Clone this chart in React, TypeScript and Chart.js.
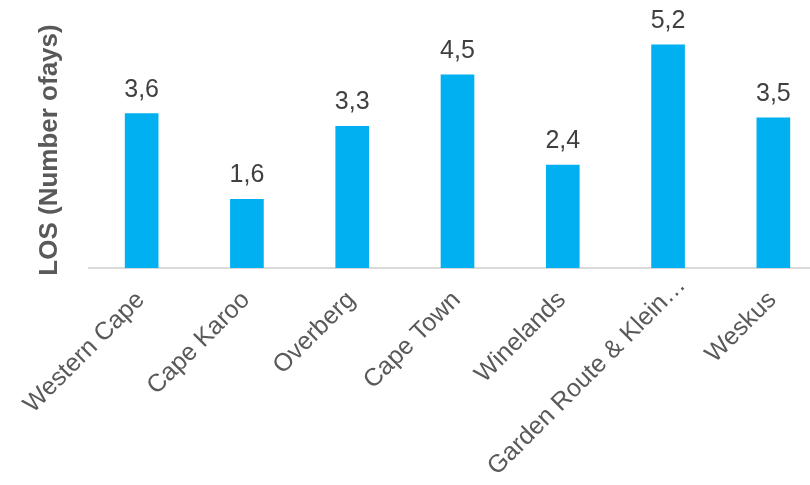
import React, { useEffect, useRef } from "react";
import { Chart, registerables } from "chart.js";

Chart.register(...registerables);

const categories = [
  "Western Cape",
  "Cape Karoo",
  "Overberg",
  "Cape Town",
  "Winelands",
  "Garden Route & Klein…",
  "Weskus",
];
const losValues = [3.6, 1.6, 3.3, 4.5, 2.4, 5.2, 3.5];
const valueLabels = ["3,6", "1,6", "3,3", "4,5", "2,4", "5,2", "3,5"];
const yTitle = "LOS (Number ofays)";

const FONT = '"Liberation Sans", Arial, sans-serif';

const dataLabelPlugin = {
  id: "dataLabels",
  afterDatasetsDraw(chart: any) {
    const ctx = chart.ctx;
    const meta = chart.getDatasetMeta(0);
    ctx.save();
    ctx.font = `25px ${FONT}`;
    ctx.fillStyle = "#404040";
    ctx.textAlign = "center";
    ctx.textBaseline = "alphabetic";
    meta.data.forEach((bar: any, i: number) => {
      ctx.fillText(valueLabels[i], bar.x, bar.y - 17);
    });
    ctx.restore();
  },
};

// Rotated category labels (Excel-style): right end anchored just right of the tick,
// slid along their own direction when they would run off the bottom.
const xLabelPlugin = {
  id: "xLabels",
  afterDraw(chart: any) {
    const ctx = chart.ctx;
    const xScale = chart.scales.x;
    const baseY = chart.chartArea.bottom;
    const limit = chart.height - 9;
    const c = Math.SQRT1_2;
    ctx.save();
    ctx.font = `25px ${FONT}`;
    ctx.fillStyle = "#595959";
    ctx.textAlign = "right";
    ctx.textBaseline = "alphabetic";
    categories.forEach((label, i) => {
      const w = ctx.measureText(label).width;
      let ex = xScale.getPixelForTick(i) + 4;
      let ey = baseY + 33;
      const overflow = ey + w * c - limit;
      if (overflow > 0) {
        ex += overflow;
        ey -= overflow;
      }
      ctx.save();
      ctx.translate(ex, ey);
      ctx.rotate(-Math.PI / 4);
      ctx.fillText(label, 0, 0);
      ctx.restore();
    });
    ctx.restore();
  },
};

export default function App() {
  const ref = useRef<HTMLCanvasElement | null>(null);

  useEffect(() => {
    if (!ref.current) return;
    const chart = new Chart(ref.current, {
      type: "bar",
      data: {
        labels: categories,
        datasets: [
          {
            data: losValues,
            backgroundColor: "#00B0F0",
            barThickness: 33,
          },
        ],
      },
      options: {
        animation: false,
        responsive: true,
        maintainAspectRatio: false,
        layout: { padding: { top: 32, right: 14, bottom: 0, left: 0 } },
        plugins: {
          legend: { display: false },
          tooltip: { enabled: false },
        },
        scales: {
          x: {
            grid: { display: false, drawTicks: false },
            border: { display: true, color: "#D9D9D9", width: 2 },
            ticks: { display: false },
            afterFit: (scale: any) => {
              scale.height = 217;
            },
          },
          y: {
            min: 0,
            max: 5.5,
            grid: { display: false, drawTicks: false },
            border: { display: false },
            ticks: { display: false },
            title: {
              display: true,
              text: yTitle,
              color: "#595959",
              font: { family: FONT, size: 26, weight: "bold" },
              padding: { top: 34, bottom: 0 },
            },
            afterFit: (scale: any) => {
              scale.width = 89;
            },
          },
        },
      },
      plugins: [dataLabelPlugin, xLabelPlugin],
    });
    return () => chart.destroy();
  }, []);

  return (
    <div
      style={{
        position: "fixed",
        left: 0,
        top: 0,
        width: 810,
        height: 485,
        overflow: "hidden",
        background: "#fff",
      }}
    >
      <div style={{ position: "relative", width: 840, height: 485 }}>
        <canvas ref={ref} />
      </div>
    </div>
  );
}
